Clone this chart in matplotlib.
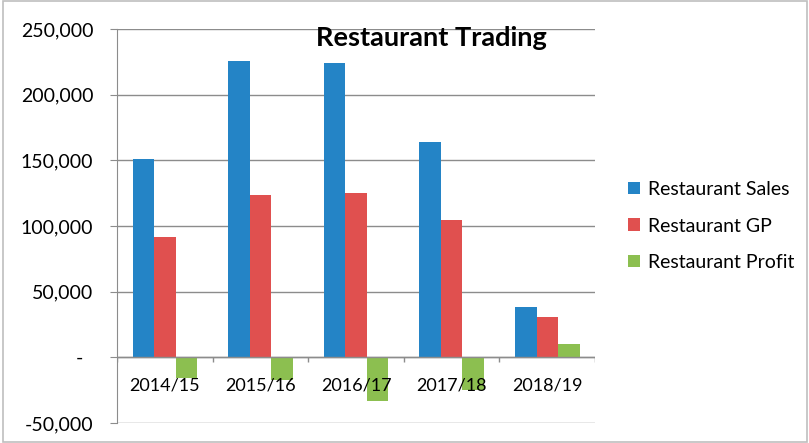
import numpy as np
import matplotlib.pyplot as plt
from matplotlib.patches import Rectangle
from matplotlib.ticker import FuncFormatter

plt.rcParams['font.family'] = ['Lato', 'DejaVu Sans']

years = ['2014/15', '2015/16', '2016/17', '2017/18', '2018/19']
sales = [151000, 226000, 224500, 164000, 38500]
gp = [91500, 123500, 125000, 104500, 30500]
profit = [-15500, -17000, -33500, -24500, 10000]

series = [('Restaurant Sales', sales, '#2484C6'),
          ('Restaurant GP', gp, '#E0504F'),
          ('Restaurant Profit', profit, '#8CBF50')]

fig = plt.figure(figsize=(8.09, 4.43), dpi=100)
ax = fig.add_axes([0.1446, 0.0451, 0.591, 0.8894])

x = np.arange(len(years))
w = 0.225
for i, (name, vals, col) in enumerate(series):
    ax.bar(x + (i - 1) * w, vals, w, color=col, label=name, zorder=3)

ax.set_xlim(-0.5, len(years) - 0.5)
ax.set_ylim(-50000, 250000)
ax.set_yticks(np.arange(-50000, 250001, 50000))
ax.yaxis.set_major_formatter(FuncFormatter(lambda v, p: '-  ' if v == 0 else f'{v:,.0f}'))
ax.grid(axis='y', color='#8c8c8c', linewidth=1, zorder=0)
ax.tick_params(axis='y', length=5, color='#8c8c8c', labelsize=14, pad=12)
ax.set_xticks([])
for s in ['top', 'right', 'bottom']:
    ax.spines[s].set_visible(False)
ax.spines['left'].set_color('#8c8c8c')

# category axis along zero line
ax.axhline(0, color='#8c8c8c', linewidth=1, zorder=4)
ax.vlines(np.arange(-0.5, len(years)), 0, -3800, color='#8c8c8c', linewidth=1, zorder=4)
for xi, lab in zip(x, years):
    ax.text(xi, -21300, lab, ha='center', va='center', fontsize=13, zorder=5)

ax.text(0.657, 0.977, 'Restaurant Trading', transform=ax.transAxes, ha='center',
        va='center', fontsize=19.5, fontweight='bold', zorder=5)

ax.legend(loc='center left', bbox_to_anchor=(1.069, 0.5), frameon=False,
          fontsize=14, handlelength=0.6, handleheight=0.6, handletextpad=0.4,
          labelspacing=1.0, borderpad=0, borderaxespad=0)

fig.patches.append(Rectangle((0.004, 0.002), 0.994, 0.996, transform=fig.transFigure,
                             fill=False, edgecolor='#bfbfbf', linewidth=1.2))

fig.savefig('out.png', dpi=100)
